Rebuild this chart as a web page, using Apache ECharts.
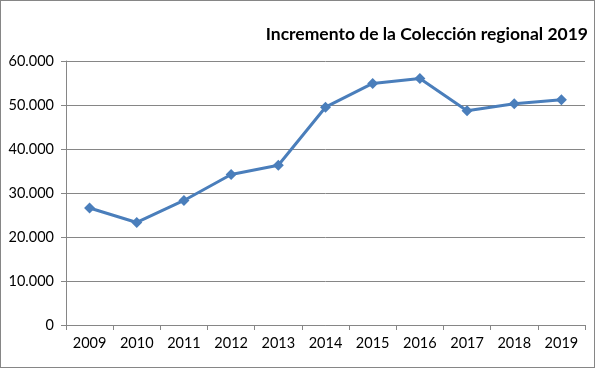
<!DOCTYPE html>
<html><head><meta charset="utf-8">
<script src="https://cdn.jsdelivr.net/npm/echarts@6/dist/echarts.min.js"></script>
<style>html,body{margin:0;padding:0;background:#fff}#c{width:595px;height:368px;box-sizing:border-box;border:1px solid #868686}</style>
</head><body><div id="c"></div>
<script>
const categories = ['2009','2010','2011','2012','2013','2014','2015','2016','2017','2018','2019'];
const values = [26600, 23300, 28300, 34200, 36300, 49500, 54900, 56000, 48700, 50300, 51200];
const titleText = 'Incremento de la Colección regional 2019';

const chart = echarts.init(document.getElementById('c'), null, {renderer:'canvas'});
chart.setOption({
  animation:false,
  title:{text:titleText, right:1, top:19, textStyle:{fontFamily:'Lato', fontWeight:'bold', fontSize:17.5, color:'#000'}},
  grid:{left:65, right:9, top:60, bottom:42},
  xAxis:{type:'category', data:categories, boundaryGap:true,
    axisLine:{lineStyle:{color:'#868686'}},
    axisTick:{show:true, length:5, lineStyle:{color:'#868686'}},
    axisLabel:{color:'#000', fontFamily:'Lato', fontSize:14.5, margin:11}},
  yAxis:{type:'value', min:0, max:60000, interval:10000,
    axisLine:{show:true, lineStyle:{color:'#868686'}},
    axisTick:{show:true, length:5, lineStyle:{color:'#868686'}},
    splitLine:{lineStyle:{color:'#868686'}},
    axisLabel:{color:'#000', fontFamily:'Lato', fontSize:14.5, margin:12,
      formatter:v=> v===0 ? '0' : v.toLocaleString('de-DE')}},
  series:[{type:'line', data:values, symbol:'diamond', symbolSize:11,
    lineStyle:{color:'#4a7ebb', width:3}, itemStyle:{color:'#4a7ebb'}}]
});
</script></body></html>
